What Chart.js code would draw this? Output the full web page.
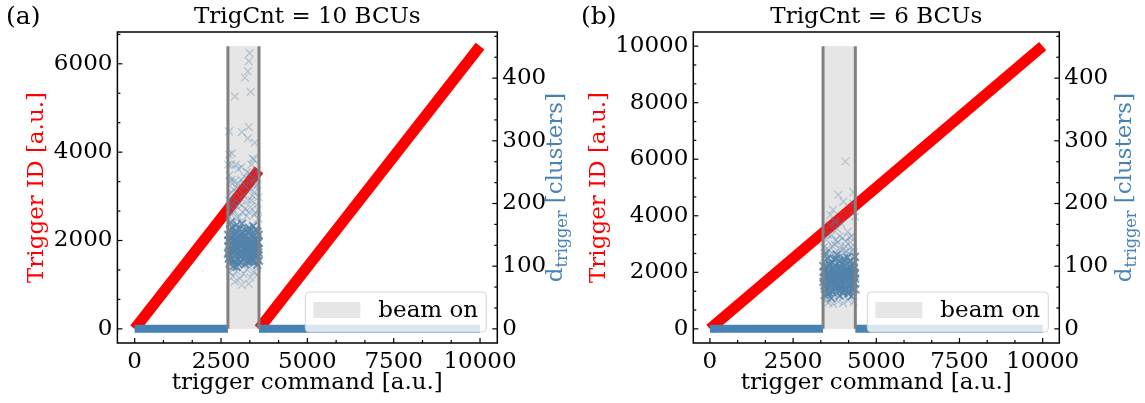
<!DOCTYPE html>
<html>
<head>
<meta charset="utf-8">
<script src="https://cdn.jsdelivr.net/npm/chart.js@4"></script>
<style>
  html, body { margin: 0; padding: 0; background: #fff; }
  #wrap { position: relative; width: 1145px; height: 403px; }
  .panel { position: absolute; top: 0; }
</style>
</head>
<body>
<div id="wrap">
  <canvas id="chartA" class="panel" style="left:0" width="572" height="403"></canvas>
  <canvas id="chartB" class="panel" style="left:572px" width="573" height="403"></canvas>
</div>
<script>
// shared axes
const cmdTicks = [0, 2500, 5000, 7500, 10000];
const cmdRange = [-500, 10500];
const dTicks = [0, 100, 200, 300, 400];
const dRange = [-22.55, 473.6];

// (a) TrigCnt = 10 BCUs
const idTicksA = [0, 2000, 4000, 6000];
const idRangeA = [-320, 6720];
const beamA = [2700, 3600];
const beamTopA = 6400;
const runCmdA1 = [0, 3600], runIdA1 = [0, 3600];
const runCmdA2 = [3600, 10000], runIdA2 = [0, 6400];
const idleA = [[0, 2700], [3600, 10000]];
const coreA = [
  [2720,132],[2760,118],[2800,145],[2840,126],[2880,108],[2920,152],[2960,137],[3000,121],[3040,160],[3080,114],
  [3120,141],[3160,129],[3200,103],[3240,148],[3280,135],[3320,119],[3360,157],[3400,127],[3440,110],[3480,143],
  [3520,131],[3560,116],[3590,150],[2710,150],[2750,104],[2790,128],[2830,162],[2870,139],[2910,117],[2950,99],
  [2990,146],[3030,133],[3070,125],[3110,168],[3150,112],[3190,138],[3230,124],[3270,155],[3310,107],[3350,140],
  [3390,130],[3430,164],[3470,121],[3510,136],[3550,102],[3590,127],[2730,140],[2780,170],[2820,112],[2860,133],
  [2900,126],[2940,144],[2980,110],[3020,138],[3060,149],[3100,123],[3140,134],[3180,158],[3220,116],[3260,129],
  [3300,142],[3340,113],[3380,151],[3420,136],[3460,106],[3500,158],[3540,139],[3580,122],[2745,125],[2815,135],
  [2895,142],[2975,128],[3055,118],[3135,147],[3215,133],[3295,124],[3375,139],[3455,129],[3535,146],[2725,112],
  [2715,141],[2755,158],[2795,110],[2835,148],[2875,121],[2915,135],[2955,166],[2995,104],[3035,143],[3075,152],
  [3115,119],[3155,145],[3195,127],[3235,108],[3275,142],[3315,161],[3355,125],[3395,113],[3435,147],[3475,133],
  [3515,117],[3555,155],[3585,138],[2705,120],[2765,146],[2825,122],[2885,156],[2945,129],[3005,139],[3065,106],
  [3125,153],[3185,120],[3245,137],[3305,131],[3365,108],[3425,122],[3485,118],[3545,127],[3595,109],[2860,100]
];
const haloA = [
  [2720,180],[2780,195],[2840,210],[2900,188],[2960,225],[3020,200],[3080,238],[3140,215],[3200,192],[3260,250],
  [3320,222],[3380,205],[3440,240],[3500,185],[3560,230],[2740,245],[2800,262],[2880,235],[3000,255],[3100,198],
  [3180,243],[3300,186],[3420,212],[3540,252],[2760,90],[2850,84],[2950,92],[3050,80],[3150,88],[3250,95],
  [3350,82],[3450,91],[3550,86],[2710,262],[2730,278],[3305,427],[3276,411],[3190,401],[3362,378],[2902,371],
  [2730,315],[3103,314],[3305,322],[3276,304],[3477,297],[2816,280],[3420,272],[2931,262],[3448,270],[3330,440],
  [2900,75],[3300,72],[3100,70],[2740,190],[2790,218],[2860,202],[2930,196],[2990,232],[3060,210],[3130,186],
  [3210,228],[3280,205],[3350,194],[3410,235],[3470,218],[3530,198],[3590,210],[2770,235],[2960,178],[3240,180],
  [3470,182],[3580,176],[2810,182],[2720,205],[2870,222],[3020,178],[3160,230],[3330,248],[3500,226],[3570,190],
  [2800,238],[3090,258],[3380,262]
];

// (b) TrigCnt = 6 BCUs
const idTicksB = [0, 2000, 4000, 6000, 8000, 10000];
const idRangeB = [-500, 10500];
const beamB = [3400, 4370];
const beamTopB = 10000;
const runCmdB = [0, 10000], runIdB = [0, 10000];
const idleB = [[0, 3400], [4370, 10000]];
const coreB = [
  [3420,82],[3460,68],[3500,95],[3540,76],[3580,58],[3620,102],[3660,87],[3700,71],[3740,110],[3780,64],
  [3820,91],[3860,79],[3900,53],[3940,98],[3980,85],[4020,69],[4060,107],[4100,77],[4140,60],[4180,93],
  [4220,81],[4260,66],[4300,100],[4340,74],[4360,88],[3410,100],[3450,54],[3490,78],[3530,112],[3570,89],
  [3610,67],[3650,49],[3690,96],[3730,83],[3770,75],[3810,118],[3850,62],[3890,88],[3930,74],[3970,105],
  [4010,57],[4050,90],[4090,80],[4130,114],[4170,71],[4210,86],[4250,52],[4290,77],[4330,97],[4370,63],
  [3430,90],[3480,120],[3520,62],[3560,83],[3600,76],[3640,94],[3680,60],[3720,88],[3760,99],[3800,73],
  [3840,84],[3880,108],[3920,66],[3960,79],[4000,92],[4040,63],[4080,101],[4120,86],[4160,56],[4200,108],
  [4240,89],[4280,72],[4320,84],[4360,115],[3470,85],[3590,72],[3710,80],[3830,86],[3950,70],[4070,84],
  [3415,75],[3455,92],[3495,64],[3535,88],[3575,104],[3615,81],[3655,70],[3695,58],[3735,92],[3775,86],
  [3815,69],[3855,97],[3895,78],[3935,61],[3975,90],[4015,82],[4055,72],[4095,95],[4135,68],[4175,84],
  [4215,99],[4255,78],[4295,62],[4335,90],[4365,80],[3440,70],[3510,100],[3630,78],[3750,66],[3870,74],
  [3990,58],[4110,91],[4230,70],[4310,105],[3540,55],[3680,106],[3790,112],[3910,96],[4030,112],[4190,60]
];
const haloB = [
  [3420,130],[3500,142],[3580,125],[3660,150],[3740,135],[3820,160],[3900,128],[3980,145],[4060,132],[4140,155],
  [4220,138],[4300,127],[3460,45],[3560,42],[3700,40],[3860,44],[4000,41],[4160,46],[4320,43],[3600,165],
  [3760,172],[3940,168],[4100,124],[4260,148],[4070,267],[3860,214],[4010,203],[4310,218],[3620,182],[4370,179],
  [3770,170],[4300,200],[3700,190],[3440,115],[3520,128],[3600,118],[3680,132],[3760,122],[3840,138],[3920,117],
  [4000,126],[4080,140],[4160,120],[4240,130],[4320,122],[3560,150],[3900,148],[4200,146],[3780,142]
];

const FONT = '"DejaVu Serif", "Liberation Serif", serif';
const FS = 23;
const RED = '#ff0000';
const BLUE = '#4682b4';

function pts(xs, ys) { return xs.map((x, i) => ({ x: x, y: ys[i] })); }
function pairs(list) { return list.map(p => ({ x: p[0], y: p[1] })); }
function fixedTicks(values) {
    return function (scale) { scale.ticks = values.map(v => ({ value: v })); };
}

function tickMarks(ctx, scale, seg) {
    const vals = scale.ticks.map(t => t.value);
    const step = vals[1] - vals[0];
    for (let k = -3; k <= (vals.length - 1) * 3 + 3; k++) {
        const v = vals[0] + k * step / 3;
        if (v < scale.min || v > scale.max) continue;
        const s = seg(scale.getPixelForValue(v), k % 3 === 0 ? 5 : 3);
        ctx.beginPath();
        ctx.moveTo(s[0], s[1]);
        ctx.lineTo(s[2], s[3]);
        ctx.stroke();
    }
}

function roundBox(ctx, x, y, w, h, r) {
    ctx.beginPath();
    ctx.moveTo(x + r, y);
    ctx.lineTo(x + w - r, y);
    ctx.quadraticCurveTo(x + w, y, x + w, y + r);
    ctx.lineTo(x + w, y + h - r);
    ctx.quadraticCurveTo(x + w, y + h, x + w - r, y + h);
    ctx.lineTo(x + r, y + h);
    ctx.quadraticCurveTo(x, y + h, x, y + h - r);
    ctx.lineTo(x, y + r);
    ctx.quadraticCurveTo(x, y, x + r, y);
    ctx.closePath();
}

function decor(p) {
    return {
        id: 'decor',
        afterDatasetsDraw(chart) {
            const ctx = chart.ctx, a = chart.chartArea;
            const x = chart.scales.x, y = chart.scales.y, y2 = chart.scales.y2;
            ctx.save();
            // beam on band
            const x0 = x.getPixelForValue(p.beam[0]), x1 = x.getPixelForValue(p.beam[1]);
            const yb = y.getPixelForValue(0), yt = y.getPixelForValue(p.beamTop);
            ctx.fillStyle = 'rgba(128,128,128,0.2)';
            ctx.fillRect(x0, yt, x1 - x0, yb - yt);
            ctx.strokeStyle = '#808080';
            ctx.lineWidth = 3;
            [x0, x1].forEach(px => {
                ctx.beginPath(); ctx.moveTo(px, yb); ctx.lineTo(px, yt); ctx.stroke();
            });
            // frame + inward ticks
            ctx.strokeStyle = '#000';
            ctx.lineWidth = 1.5;
            ctx.strokeRect(a.left, a.top, a.right - a.left, a.bottom - a.top);
            ctx.lineWidth = 1.2;
            tickMarks(ctx, x, (px, L) => [px, a.bottom, px, a.bottom - L]);
            tickMarks(ctx, y, (py, L) => [a.left, py, a.left + L, py]);
            tickMarks(ctx, y2, (py, L) => [a.right, py, a.right - L, py]);
            // legend
            const bw = 181, bh = 40;
            const bx = a.right - 11 - bw, by = a.bottom - 11 - bh;
            roundBox(ctx, bx, by, bw, bh, 4);
            ctx.fillStyle = 'rgba(255,255,255,0.8)';
            ctx.fill();
            ctx.strokeStyle = '#d5d5d5';
            ctx.lineWidth = 1;
            ctx.stroke();
            ctx.fillStyle = 'rgba(128,128,128,0.2)';
            ctx.fillRect(bx + 8, by + 10, 47, 16);
            ctx.fillStyle = '#000';
            ctx.font = FS + 'px ' + FONT;
            ctx.textAlign = 'left';
            ctx.textBaseline = 'middle';
            ctx.fillText('beam on', bx + 73, by + 19);
            ctx.restore();
        },
        afterDraw(chart) {
            const ctx = chart.ctx, a = chart.chartArea;
            const midX = (a.left + a.right) / 2, midY = (a.top + a.bottom) / 2;
            ctx.save();
            ctx.fillStyle = '#000';
            ctx.textBaseline = 'middle';
            ctx.textAlign = 'center';
            ctx.font = FS + 'px ' + FONT;
            ctx.fillText(p.title, midX, 17);
            ctx.fillText('trigger command [a.u.]', midX, 383);
            ctx.font = '25px ' + FONT;
            ctx.textAlign = 'left';
            ctx.fillText(p.tag, p.tagX, 17);
            // left axis title
            ctx.save();
            ctx.translate(p.yTitleX, midY);
            ctx.rotate(-Math.PI / 2);
            ctx.font = FS + 'px ' + FONT;
            ctx.textAlign = 'center';
            ctx.fillStyle = RED;
            ctx.fillText('Trigger ID [a.u.]', 0, 0);
            ctx.restore();
            // right axis title with subscript
            ctx.save();
            ctx.translate(a.right + p.y2TitleDx, midY);
            ctx.rotate(-Math.PI / 2);
            ctx.fillStyle = BLUE;
            ctx.textAlign = 'left';
            ctx.textBaseline = 'alphabetic';
            const big = FS + 'px ' + FONT, small = '16px ' + FONT;
            ctx.font = big; const w1 = ctx.measureText('d').width, w3 = ctx.measureText(' [clusters]').width;
            ctx.font = small; const w2 = ctx.measureText('trigger').width;
            const s = -(w1 + w2 + w3) / 2;
            ctx.font = big; ctx.fillText('d', s, 8);
            ctx.font = small; ctx.fillText('trigger', s + w1, 13);
            ctx.font = big; ctx.fillText(' [clusters]', s + w1 + w2, 8);
            ctx.restore();
            ctx.restore();
        }
    };
}

function makeChart(id, p) {
    const datasets = [];
    datasets.push({
        type: 'scatter', data: pairs(p.core), yAxisID: 'y2', order: 0,
        pointStyle: 'crossRot', pointRadius: 5.5, borderWidth: 2,
        borderColor: 'rgba(70,130,180,0.8)', backgroundColor: 'rgba(70,130,180,0.8)'
    });
    datasets.push({
        type: 'scatter', data: pairs(p.halo), yAxisID: 'y2', order: 0,
        pointStyle: 'crossRot', pointRadius: 5.5, borderWidth: 1.3,
        borderColor: 'rgba(70,130,180,0.35)', backgroundColor: 'rgba(70,130,180,0.35)'
    });
    p.idle.forEach(seg => datasets.push({
        type: 'line', data: pts(seg, [0, 0]), yAxisID: 'y2', order: 1,
        borderColor: BLUE, borderWidth: 8, pointRadius: 0, borderCapStyle: 'butt'
    }));
    p.runs.forEach(r => datasets.push({
        type: 'line', data: pts(r[0], r[1]), yAxisID: 'y', order: 2,
        borderColor: RED, borderWidth: 11, pointRadius: 0, borderCapStyle: 'butt'
    }));
    const tickFont = { family: FONT, size: FS };
    return new Chart(document.getElementById(id), {
        data: { datasets: datasets },
        plugins: [decor(p)],
        options: {
            responsive: false,
            animation: false,
            events: [],
            layout: { padding: { top: 32, left: 0, right: 0, bottom: 0 } },
            plugins: { legend: { display: false }, tooltip: { enabled: false } },
            scales: {
                x: {
                    type: 'linear', position: 'bottom', min: cmdRange[0], max: cmdRange[1],
                    afterBuildTicks: fixedTicks(cmdTicks),
                    afterFit: s => { s.height = 60; },
                    grid: { display: false, drawTicks: false }, border: { display: false },
                    ticks: { font: tickFont, color: '#000', padding: 5, maxRotation: 0, autoSkip: false, callback: v => String(v) }
                },
                y: {
                    type: 'linear', position: 'left', min: p.idRange[0], max: p.idRange[1],
                    afterBuildTicks: fixedTicks(p.idTicks),
                    afterFit: s => { s.width = p.left; },
                    grid: { display: false, drawTicks: false }, border: { display: false },
                    ticks: { font: tickFont, color: '#000', padding: 5, autoSkip: false, callback: v => String(v) }
                },
                y2: {
                    type: 'linear', position: 'right', min: dRange[0], max: dRange[1],
                    afterBuildTicks: fixedTicks(dTicks),
                    afterFit: s => { s.width = p.width - p.right; },
                    grid: { display: false, drawTicks: false }, border: { display: false },
                    ticks: { font: tickFont, color: '#000', padding: 5, autoSkip: false, callback: v => String(v) }
                }
            }
        }
    });
}

makeChart('chartA', {
    title: 'TrigCnt = 10 BCUs', tag: '(a)', tagX: 6, yTitleX: 37, y2TitleDx: 57,
    width: 572, left: 117.4, right: 497.3,
    idTicks: idTicksA, idRange: idRangeA, beam: beamA, beamTop: beamTopA,
    runs: [[runCmdA1, runIdA1], [runCmdA2, runIdA2]], idle: idleA, core: coreA, halo: haloA
});

makeChart('chartB', {
    title: 'TrigCnt = 6 BCUs', tag: '(b)', tagX: 9, yTitleX: 27, y2TitleDx: 64,
    width: 573, left: 121.3, right: 487.3,
    idTicks: idTicksB, idRange: idRangeB, beam: beamB, beamTop: beamTopB,
    runs: [[runCmdB, runIdB]], idle: idleB, core: coreB, halo: haloB
});
</script>
</body>
</html>
